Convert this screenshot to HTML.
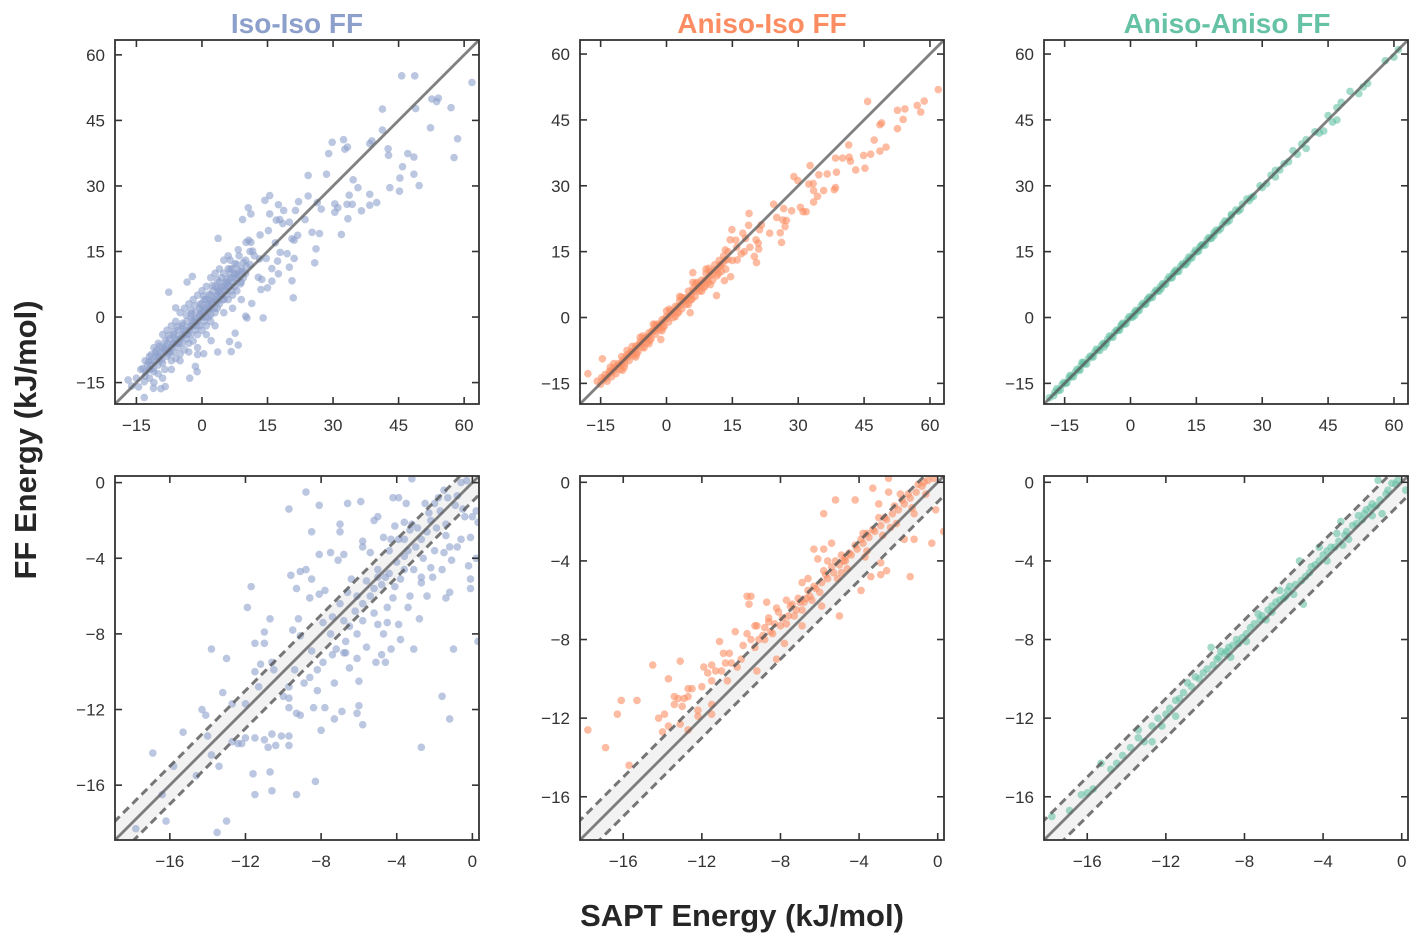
<!DOCTYPE html>
<html><head><meta charset="utf-8">
<style>
body{margin:0;background:#fff;}
svg{display:block;font-family:"Liberation Sans","DejaVu Sans",sans-serif;}
.tick{font-size:17px;fill:#333;}
</style></head>
<body>
<svg id="fig" width="1419" height="942" viewBox="0 0 1419 942" xmlns="http://www.w3.org/2000/svg">
<text x="297" y="33" text-anchor="middle" font-size="28" font-weight="bold" fill="#8da0cb">Iso-Iso FF</text>
<text x="762" y="33" text-anchor="middle" font-size="28" font-weight="bold" fill="#fc8d62">Aniso-Iso FF</text>
<text x="1227" y="33" text-anchor="middle" font-size="28" font-weight="bold" fill="#66c2a5">Aniso-Aniso FF</text>
<text x="742" y="926" text-anchor="middle" font-size="31" font-weight="bold" fill="#262626">SAPT Energy (kJ/mol)</text>
<text transform="translate(36,440) rotate(-90)" text-anchor="middle" font-size="31" font-weight="bold" fill="#262626">FF Energy (kJ/mol)</text>
</svg>
<script>
const topTicks = [-15, 0, 15, 30, 45, 60];
const botTicks = [-16, -12, -8, -4, 0];

const isoTop = [[45.7,55.2],[48.7,55.2],[61.8,53.7],[52.6,49.9],[54.1,50.1],[53.7,49.3],[57,47.9],[48.9,47.7],[41.3,47.6],[52.3,43.3],[41.3,42.8],[58.5,40.8],[57.7,36.5],[32.4,40.6],[29.8,40],[32.7,38.4],[33.3,38.9],[38.9,40.3],[38.4,39.7],[42.6,38.5],[42.7,37],[29,37.4],[47.1,37.4],[48.5,36.6],[45.9,34.4],[48.5,32.7],[45.3,31.8],[49.7,30.1],[45.2,28.8],[43,29.6],[24.3,32.4],[28.5,32.7],[34.6,31.4],[35.7,29.6],[33.7,27.9],[38.4,28.1],[40,26.2],[38.4,25.6],[36.5,24.3],[33.4,22.5],[30.4,25.9],[31.1,25],[30.4,24],[33.2,25.8],[34.4,25.8],[26.4,26.2],[27.3,24.7],[24.3,27.7],[22.1,26.4],[21.4,24.4],[23.6,22.3],[25.2,19.4],[26.9,19.1],[31.9,18.9],[26.1,15.6],[25.8,12.4],[21.9,18.7],[21.1,17.6],[20.6,17.9],[19.5,14.5],[21.1,13.4],[20,11.4],[20.6,8.3],[20.9,4.4],[17.5,9.9],[16,8.2],[15,6.7],[13.5,6.3],[14,-0.2],[11.4,3.1],[10.3,-0.2],[10,0.2],[7.6,-3.7],[8.3,-6.4],[6.7,-7.9],[6.3,-5.6],[3.6,-8],[2.1,-5.4],[0.4,-8.4],[-1,-8.6],[-2.8,-14],[-1.1,-12.5],[-1.5,-11.3],[-8.4,-15.9],[-9.4,-16.4],[-11.1,-16.3],[-13.2,-18.4],[-16.1,-15.8],[-16.9,-14.4],[-7.6,5.7],[-6,2.1],[-3.4,8],[-2.2,9.3],[3.7,18],[9.3,22.3],[10.6,25],[11.2,23.6],[14.4,26.7],[15.5,27.8],[15.5,23.6],[17.5,25.7],[18.7,24.4],[17,22.2],[17.8,22.3],[18.5,21.4],[20,21.7],[15.2,19.8],[13.3,18.8],[10.7,17.6],[11.2,17.1],[10.1,17.1],[8.3,15.4],[11.6,15.1],[13.2,13.3],[14.7,13.4],[16,11.1],[17.3,12.8],[17.9,14.8],[16.8,17],[12.9,9.1],[13.7,8.6],
[-14,-12],[-13,-13.5],[-12.5,-11],[-12,-14],[-11.5,-10],[-11,-12.5],[-10.5,-9],[-10,-11],[-10,-13],[-9.5,-8],[-9,-10.5],[-9,-7],[-8.5,-12],[-8,-9],[-8,-6],[-7.5,-8.5],[-7.5,-5],[-7,-10],[-7,-7],[-6.5,-4],[-6.5,-8],[-6,-6],[-6,-9.5],[-5.5,-3],[-5.5,-7],[-5,-5],[-5,-8.5],[-4.5,-2],[-4.5,-6],[-4,-4],[-4,-7.5],[-3.5,-1],[-3.5,-5],[-3,-3],[-3,-6],[-2.5,0],[-2.5,-4],[-2,-2],[-2,-5.5],[-1.5,1],[-1.5,-3],[-1,-1],[-1,-4],[-0.5,2],[-0.5,-2],[0,0],[0,3],[0,-3],[0.5,1.5],[0.5,-1],[1,4],[1,2],[1,-2],[1.5,3],[1.5,0],[2,5],[2,2],[2,-1],[2.5,6],[2.5,3.5],[3,4],[3,1],[3,7],[3.5,5],[3.5,2],[4,8],[4,6],[4,3],[4.5,9],[4.5,5],[5,7],[5,4],[5,10],[5.5,8],[5.5,6],[6,11],[6,7],[6,4],[6.5,9],[6.5,13],[7,8],[7,11],[7,5],[7.5,10],[8,12],[8,9],[8,6],[8.5,14],[9,11],[9,8],[10,13],[10,10],[11,12],[11,15],[12,14],[-8,-3],[-10,-6],[-6,-1],[-4,2],[-2,4],[0,6],[2,9],[4,11],[6,14],[-12,-9],[-9,-4],[-7,-2],[-5,1],[-3,3],[-1,5],[1,7],[3,10],[5,13],[-13,-10],[-11,-7],[-3,-8],[-1,-7],[1,-4],[3,-2],[5,1],[7,2],[9,4],[-5,-10],[-7,-12],[-9,-14],[-11,-15],[2,0.5],[0.5,4],[-1.5,-0.5],[-2.5,1.5],[3.5,8.5],[6.5,11],[8.5,10.5],[9.5,12.5],[-15,-14],[-14.5,-16],[-12,-12],[-10,-9],[-8.5,-7.5],[-6.5,-6],[-4.5,-4.5],[-2.5,-2],[-0.5,0.5],[1.5,1.5],[3.5,3.5],[5.5,5],[7.5,7],[9.5,9],
[-13.5,-11.8],[-12.8,-12.5],[-11.8,-11],[-10.8,-10.2],[-9.8,-9.5],[-8.8,-8.2],[-7.8,-7.6],[-6.8,-6.3],[-5.8,-5.2],[-4.8,-4.1],[-3.8,-3.2],[-2.8,-2.3],[-1.8,-1.2],[-0.8,-0.1],[0.2,1],[1.2,2.4],[2.2,3.2],[3.2,4.6],[4.2,5.4],[5.2,6.6],[6.2,7.4],[7.2,8.8],[8.2,9.6],[9.2,10.4],[10.2,11.6],[-13.2,-14.8],[-11.2,-11.8],[-9.2,-9.8],[-7.2,-8],[-5.2,-6],[-3.2,-4],[-1.2,-2],[0.8,0],[2.8,2],[4.8,4],[6.8,6],[8.8,7.6],[-10.4,-7.6],[-8.4,-5.4],[-6.4,-3.4],[-4.4,-1.4],[-2.4,0.8],[-0.4,3],[1.6,5.2],[3.6,6.6],[5.6,8.6],[7.6,12.2],[-11.6,-8.6],[-9.6,-6.6],[-7.6,-4.2],[-5.6,-2.2],[-3.6,0.4],[-1.6,2.6],[0.4,4.8],[2.4,7.2],[4.4,7],[6.4,9.8],[-12.2,-10.2],[-10.6,-8.2],[-8.2,-6.8],[-6.2,-4.8],[-4.2,-2.8],[-2.2,-0.8],[-0.2,1.4],[1.8,3.8],[3.8,5.8],[5.8,7.8],[7.8,9.8]];

const anisoIsoTop = [[61.9,51.9],[45.8,49.2],[52.6,47.2],[54.3,47.5],[57.1,48.3],[58.7,49.3],[57.9,46.8],[48.6,43.9],[49,44.3],[53.9,45.1],[52.6,43],[47.3,40.4],[41.5,39.3],[50,38.8],[48.6,37.9],[46.5,37.2],[44.9,36.9],[40.1,36.3],[38.5,36.3],[41.6,36.5],[41.9,35.6],[43.1,33.6],[45.2,34],[32.7,34.6],[29,32.1],[29.9,31.2],[34.7,32.5],[36.6,32.7],[38.7,33.1],[38.2,29.1],[38.5,29.6],[35.8,28.9],[33.4,30.5],[32.4,30.4],[33.5,28.9],[34.4,27.6],[33.5,26.3],[24.4,25.8],[18.8,23.7],[26.7,24.8],[28.5,24.3],[30.5,25.1],[31.1,24.1],[31.8,24.1],[25.1,22.8],[26.5,22.2],[27.3,22.1],[27,20.7],[23.5,19.2],[25.9,19.3],[26.2,17.1],[21.6,21.1],[21.2,20],[20.4,17.7],[20.9,16.9],[21,15.6],[20,13.9],[20.5,12.5],[18.7,21],[14.9,20],[14.5,17.7],[17.4,19.2],[17.7,15],[16.1,13.1],[14.6,9.3],[13.2,8.4],[11.4,5],[5.4,1.1],[6,10.2],[-1.3,-5],[-5.1,-6.9],[-17.9,-12.8],[-15.8,-14.5],[-14.6,-9.4],
[-15,-15.2],[-14,-13],[-13.5,-14.5],[-13,-12.2],[-12.5,-13.5],[-12,-11.5],[-11.5,-12.8],[-11,-10.5],[-10.5,-11.8],[-10,-9.8],[-9.5,-10.5],[-9,-8.5],[-8.5,-9.8],[-8,-7.8],[-7.5,-8.7],[-7,-6.5],[-6.5,-7.8],[-6,-5.5],[-5.5,-6.8],[-5,-4.8],[-4.5,-5.8],[-4,-3.5],[-3.5,-4.8],[-3,-2.8],[-2.5,-3.8],[-2,-1.5],[-1.5,-2.8],[-1,-0.5],[-0.5,-2],[0,0.3],[0.5,-1],[1,1.5],[1.5,0],[2,2.5],[2.5,1],[3,3.8],[3.5,2],[4,4.5],[4.5,3],[5,6],[5.5,4],[6,6.5],[6.5,4.8],[7,8],[7.5,6],[8,8.5],[8.5,6.8],[9,10],[9.5,8],[10,10.5],[10.5,8.5],[11,12],[11.5,9.5],[12,13],[12.5,10.5],[13,14],[13.5,11],[14,15],[15,13],[16,16],[17,14.5],[18,18],[19,16],[-12,-10.5],[-9,-7.5],[-6,-4.5],[-3,-1.5],[0,1.5],[3,4.8],[6,8],[9,11],[-10,-12],[-7,-9],[-4,-6],[-1,-3],[2,0.2],[5,3],[8,6],[10,7.5],[-14.8,-13.7],[-8.2,-8.4],[-2.2,-2.5],[4.2,3.8],[7.2,7],[12.2,11.8],
[-14.4,-14.2],[-13.8,-13.8],[-13.2,-13],[-12.6,-12.4],[-11.9,-12],[-11.3,-11.2],[-10.7,-10.8],[-10.1,-10.3],[-9.4,-9.2],[-8.8,-9],[-8.2,-8],[-7.6,-7.8],[-7,-7.2],[-6.4,-6.3],[-5.8,-6],[-5.2,-5.4],[-4.6,-4.5],[-4,-4.3],[-3.4,-3.2],[-2.8,-3.1],[-2.2,-2.1],[-1.6,-1.9],[-1,-1.2],[-0.4,-0.5],[0.2,-0.2],[0.8,0.6],[1.4,1.1],[2,1.6],[2.6,2.5],[3.2,2.8],[3.8,3.6],[4.4,4],[5,4.7],[5.6,5.2],[6.2,6],[6.8,6.3],[7.4,7.2],[8,7.5],[8.6,8.4],[9.2,8.6],[9.8,9.5],[10.4,9.8],[11,10.8],[11.6,11],[12.2,12],[12.8,12.3],[13.4,13.1],[14,13.2],[-12.8,-11.3],[-10.2,-8.9],[-7.8,-6.6],[-5.4,-4.2],[-2.6,-1.6],[0.6,1.9],[3.4,4.6],[6.6,7.8],[9.6,11.2],[13.4,15.4],[15.8,17.6],[-9.6,-11.3],[-6.8,-8.3],[-3.8,-5.2],[-0.8,-2.2],[2.8,1.2],[5.8,4.2],[8.8,7.2],[11.8,10]];

const anisoAnisoTop = [[-18.5,-18.3],[-17.5,-17.8],[-16.8,-16.2],[-16,-16.5],[-15.2,-14.8],[-14.5,-14.9],[-13.8,-13.2],[-13,-13.5],[-12.2,-11.8],[-11.5,-12],[-10.8,-10.3],[-10,-10.6],[-9.2,-8.8],[-8.5,-9],[-7.8,-7.2],[-7,-7.5],[-6.2,-5.9],[-5.5,-6],[-4.8,-4.2],[-4,-4.5],[-3.2,-2.9],[-2.5,-2.9],[-1.8,-1.3],[-1,-1.4],[-0.3,0.2],[0.5,0.1],[1.2,1.6],[2,1.6],[2.8,3.2],[3.5,3.1],[4.3,4.7],[5,4.6],[5.8,6.2],[6.5,6],[7.3,7.7],[8,7.6],[8.8,9.3],[9.5,9.1],[10.3,10.8],[11,10.5],[11.8,12.2],[12.5,12],[13.3,13.8],[14,13.6],[14.8,15.3],[15.5,15.1],[16.3,16.6],[17,16.5],[17.8,18.2],[18.5,18.1],[19.5,19.9],[20.5,20.2],[21.5,22],[22.5,22.1],[24,24.5],[25,24.6],[26.5,27],[28,27.6],[29.5,30],[31,30.5],[33,33.5],[35,35],[37,38],[38,37.2],[40,40.5],[42,42.3],[43,42],[45,46],[46,44.5],[47,47.8],[48,49],[50,51.5],[52,51],[53,52.5],[54,53.3],[58,58.5],[60,59.3],[61,61],[44,42.5],[47,45],[40,38.5],[36,35.5],[33,32],[-11,-10.2],[-6,-6.7],[-2,-1.6],[1,0.5],[4,4.2],[7,6.6],[10,10.3],[13,12.6],[16,16.3],[19,18.7],[23,23.5],[27,26.6],
[-17.2,-17],[-16.4,-16.6],[-15.6,-15.3],[-14.8,-15],[-14,-13.8],[-13.4,-13.4],[-12.6,-12.5],[-11.8,-11.9],[-11.2,-10.9],[-10.4,-10.5],[-9.6,-9.4],[-8.8,-8.9],[-8.2,-8],[-7.4,-7.4],[-6.6,-6.4],[-5.8,-5.9],[-5.2,-5],[-4.4,-4.4],[-3.6,-3.4],[-2.8,-2.9],[-2.2,-2],[-1.4,-1.5],[-0.6,-0.4],[0.2,0.1],[0.8,1],[1.6,1.5],[2.4,2.6],[3.2,3],[3.8,4],[4.6,4.5],[5.4,5.6],[6.2,6.1],[6.8,7],[7.6,7.5],[8.4,8.6],[9.2,9],[9.8,10],[10.6,10.5],[11.4,11.6],[12.2,12.1],[12.8,13],[13.6,13.5],[14.4,14.6],[15.2,15],[15.8,16],[16.6,16.5],[17.4,17.6],[18.2,18],[19,19.3],[20,19.8],[21,21.2],[22,21.7],[23,23.2],[24.5,24.2],[25.5,25.8],[27.5,27.3],[30,29.6],[32,32.4],[34,33.6],[39,39.5]];

const isoBot = [[-16.9,-14.3],[-17.8,-18.3],[-16.2,-17.9],[-16.4,-16.5],[-15.8,-15],[-15.3,-13.2],[-14.6,-15.5],[-14.3,-12],[-14.1,-12.3],[-14,-13.4],[-13.8,-8.8],[-13.8,-14.4],[-13.4,-15],[-13.5,-18.5],[-13,-17.9],[-13,-9.3],[-13.2,-11.1],[-12.7,-11.7],[-12.7,-13.7],[-12.4,-13.8],[-12.2,-13.8],[-12,-13.5],[-12,-11.7],[-11.9,-6.6],[-11.7,-5.5],[-11.5,-10],[-11.5,-8.5],[-11.3,-10.8],[-11.5,-13.5],[-11.6,-15.4],[-11.5,-16.5],[-11.2,-9.6],[-11,-13.6],[-11,-8.5],[-11,-7.9],[-10.8,-14],[-10.7,-7.2],[-10.7,-15.3],[-10.6,-16.3],[-10.6,-13.3],[-10.6,-9.5],[-10.5,-9.9],[-10.4,-13.9],[-10.1,-13.4],[-10,-11.3],[-9.7,-11.9],[-9.7,-13.9],[-9.7,-1.4],[-9.7,-13.4],[-9.7,-11.4],[-9.6,-4.9],[-9.5,-7.8],[-9.4,-9.9],[-9.3,-12.2],[-9.3,-16.5],[-9.3,-5.6],[-9.2,-7.2],[-9.1,-8.1],[-9.1,-12.3],[-9.1,-4.7],[-8.8,-0.5],[-8.8,-4.6],[-8.6,-6.1],[-8.5,-2.6],[-8.5,-8.9],[-8.5,-5.1],[-8.4,-11.9],[-8.3,-15.8],[-8.2,-11],[-8.1,-1.2],[-8.1,-5.9],[-8.1,-3.8],[-8,-13.1],[-7.9,-9.5],[-7.8,-11.9],[-7.8,-5.7],[-7.5,-3.7],[-7.4,-9.1],[-7.3,-10.6],[-7.3,-12.5],[-7.1,-4.1],[-7,-2.6],[-7,-2.2],[-6.9,-12.1],[-6.8,-3.8],[-6.7,-8.4],[-6.7,-9],[-6.6,-1.1],[-6.5,-9.8],[-6.4,-5.1],[-6.1,-12.2],[-6.1,-9.3],[-6,-11.8],[-6,-10.5],[-5.9,-1],[-5.8,-3.4],[-5.8,-12.8],[-5.8,-3.1],[-5.6,-8.7],[-5.4,-3.7],[-5.2,-2],[-5.1,-9.5],[-5,-1.8],[-5,-4.6],[-4.8,-9.1],[-4.6,-9.5],[-4.5,-6.6],[-4.3,-8.8],[-4.2,-0.8],[-3.9,-0.8],[-4.1,-2.3],[-3.9,-7.5],[-3.8,-8.3],[-3.6,-2.1],[-3.5,-1.1],[-3.4,-6.6],[-3.3,-6],[-3.2,0.2],[-3.1,-8.8],[-3.1,-4.6],[-2.8,-7.2],[-2.7,-14],[-2.7,-5.3],[-2.5,-1.1],[-2.4,-6],[-2.2,-4.5],[-2,-1.1],[-1.6,-4.6],[-1.6,-11.3],[-1.5,-0.4],[-1.4,-6.1],[-1.2,-12.5],[-1.2,-5.8],[-1,-8.8],[-0.6,-3],[-0.4,-1.8],[-0.2,-4.4],[-0.1,-5.1],[-0.1,-5.6],[0,-1.8],[0.2,-1.5],[0.2,-4],[0.3,-8.4],[0.3,-2.1],[-0.1,-2.9],[-0.8,-3.4],[-1.2,-3.4],[-1.5,-3.7],[-1.1,-4.1],[-2.1,-5],[-2.7,-5],[-3.6,-4.6],[-3.8,-5.1],[-4.1,-5.5],[-4.2,-6.1],[-4.5,-7.4],[-4.7,-8],[-5,-7.5],[-5.2,-6.9],[-5.8,-7.3],[-6.1,-8],[-6.5,-7.6],[-6.8,-9],[-7.2,-8.8],[-5.8,-6.4],[-5.4,-6],[-4.7,-2.9],[-4.3,-3],[-3.3,-2.5],[-2.7,-3],[-2.2,-2],[-1.7,-1.5],[-1.3,-0.8],[-0.6,0],[-0.3,0.1],[-3.6,-3.9],[-5,-5],[-6.1,-6],[-6.8,-7.3],[-7.5,-8],[-8.2,-9.9],[-8.9,-10.6],[-9.7,-10.8],[-8.6,-10.3],[-7.9,-7.4],
[-4.4,-3.6],[-4,-4.2],[-3.4,-3.6],[-3,-3.4],[-2.4,-2.6],[-1.9,-2.4],[-1.4,-2.2],[-0.9,-1.2],[-0.5,-1.4],[-4.8,-5.4],[-4.4,-4.8],[-3.9,-3],[-3.2,-2.2],[-2.6,-4],[-2,-3.6],[-1.4,-2.8],[-5.6,-5.2],[-6.2,-6.8],[-6.6,-5.8],[-7,-6.4],[-7.4,-7.1],[-5.2,-5.6],[-4.6,-5],[-3.6,-3],[-2.9,-2.4],[-2.3,-1.6],[-1.8,-0.8],[-0.8,-0.7]];

const anisoIsoBot = [[-17.8,-12.6],[-16.9,-13.5],[-16.3,-11.8],[-16.1,-11.1],[-15.3,-11.1],[-15.7,-14.4],[-14.5,-9.3],[-13.7,-10],[-14.2,-12],[-13.9,-11.8],[-13.7,-12.4],[-14,-12.7],[-13.4,-10.9],[-13.4,-11.3],[-13.1,-9.1],[-13.2,-11],[-13,-11.4],[-12.9,-11],[-12.7,-10.5],[-12.5,-10.5],[-12.7,-10.9],[-12.7,-12.6],[-13.1,-12.3],[-12.2,-11.6],[-12.2,-11.9],[-12,-10.4],[-11.9,-9.4],[-11.7,-9.7],[-11.5,-9.3],[-11.5,-10.1],[-11.5,-11.8],[-11.5,-11.3],[-11.3,-9.6],[-11.1,-8.1],[-11,-9.6],[-10.9,-8.7],[-10.8,-9.2],[-10.6,-8.7],[-10.7,-10.1],[-10.5,-9.2],[-10.3,-7.6],[-10.2,-9.4],[-10,-9],[-9.9,-8.3],[-9.7,-5.8],[-9.5,-5.8],[-9.6,-6.2],[-9.7,-7.7],[-9.5,-8],[-9.3,-7.3],[-9.2,-9.6],[-9.2,-7.3],[-9.1,-8],[-8.8,-7.4],[-8.7,-6.1],[-8.6,-6.9],[-8.4,-7.7],[-8.3,-7.2],[-8.2,-6.4],[-8.2,-9],[-7.8,-8.2],[-7.7,-6],[-7.5,-6.3],[-7.3,-6.8],[-7.1,-5.9],[-6.9,-5.1],[-6.9,-7.3],[-6.9,-6.5],[-6.6,-5.5],[-6.3,-3.4],[-6.1,-3.9],[-5.8,-3.4],[-5.9,-6.3],[-5.8,-1.6],[-5.8,-4.5],[-5.6,-4],[-5.4,-3.1],[-5.2,-4],[-5.2,-0.9],[-5,-6.8],[-4.9,-4.6],[-4.7,-3.8],[-4.2,-0.9],[-3.9,-5.5],[-3.8,-2.6],[-3.4,-4.8],[-3.3,-0.3],[-3,-1.1],[-2.9,-4.1],[-2.9,-4.7],[-2.6,-4.5],[-2.5,-0.5],[-2.5,0.2],[-1.7,-2.9],[-1.4,-4.8],[-1.2,-2.9],[-0.3,-3.1],[-0.1,-1.4],[0.3,-2.5],
[-8.8,-8],[-8.5,-7.6],[-8,-7.3],[-7.6,-6.8],[-7.2,-6.5],[-6.8,-6.1],[-6.5,-5.8],[-6.2,-5.4],[-5.9,-5.1],[-5.6,-4.9],[-5.3,-4.6],[-5,-4.2],[-4.7,-4],[-4.4,-3.7],[-4.1,-3.4],[-3.8,-3.1],[-3.5,-2.8],[-3.2,-2.5],[-2.9,-2.2],[-2.6,-1.9],[-2.3,-1.6],[-2,-1.4],[-1.7,-1.1],[-1.4,-0.8],[-1.1,-0.5],[-0.8,-0.2],[-0.5,0.1],[-0.2,0.2],[-7.4,-6.2],[-6,-5.6],[-4.6,-4.4],[-3.6,-3.5],[-2.4,-2.3],[-1.3,-1.3],[-0.6,-0.6],[-4.9,-3.7],[-3,-1.8],[-1.9,-0.6],[-6.6,-4.9],[-8.1,-6.6],
[-7,-6.1],[-6.7,-5.9],[-6.3,-5.3],[-5.7,-4.7],[-5.4,-4.3],[-4.8,-4],[-4.5,-3.6],[-4.2,-3.2],[-3.9,-2.9],[-3.6,-2.6],[-3.3,-2.4],[-2.7,-1.8],[-2.2,-1.2],[-1.8,-0.9],[-1.5,-0.6],[-1,-0.1],[-0.7,0],[-9.3,-8.4],[-8.9,-7.8],[-8.6,-7.1],[-7.9,-6.9],[-7.7,-7.2],[-6.4,-6],[-5.1,-4.9],[-3.7,-3.8],[-2.8,-2.7],[-2.1,-2.1],[-1.2,-1.6]];

const anisoAnisoBot = [[-17.8,-17],[-16.9,-16.7],[-16.3,-15.9],[-15.7,-15.6],[-15.3,-14.3],[-14.5,-14.3],[-14.2,-13.9],[-13.4,-12.6],[-13.4,-13],[-13.1,-13.2],[-12.7,-13.2],[-12.7,-12.4],[-12.2,-12.4],[-12,-11.8],[-11.5,-11.1],[-11.5,-11.9],[-11.1,-10.7],[-10.9,-10.2],[-10.5,-9.9],[-10.1,-9.7],[-9.7,-8.4],[-9.6,-9.3],[-9.3,-8.9],[-8.9,-8.6],[-8.7,-8.9],[-8.3,-8.2],[-7.9,-7.7],[-7.3,-6.7],[-6.9,-7],[-6.6,-6.3],[-6.2,-5.5],[-5.9,-5.8],[-5.2,-4],[-5,-6.2],[-4.9,-4.8],[-4.2,-3.3],[-3.8,-4],[-3.3,-2.6],[-3.1,-2],[-2.7,-2.9],[-2.2,-1.7],[-1.5,-1.1],[-1.2,0.1],[-1,-1.6],[-0.5,-0.05],[0.2,-0.4],
[-9.4,-9],[-9,-8.7],[-8.6,-8.3],[-8.1,-7.9],[-7.7,-7.4],[-7.5,-7.2],[-7.1,-6.8],[-6.8,-6.5],[-6.4,-6.1],[-6,-5.9],[-5.7,-5.3],[-5.4,-5.2],[-4.6,-4.3],[-4.4,-4.2],[-4,-3.7],[-3.6,-3.3],[-3.4,-3.3],[-2.9,-2.7],[-2.5,-2.2],[-2,-1.9],[-1.8,-1.4],[-1.3,-1.2],[-0.8,-0.6],[-0.3,-0.1],[-10.3,-10],[-11.8,-11.5],[-13.8,-13.5],[-14.8,-14.6],[-16,-15.8],[-7.9,-8.1],[-5.5,-5.7],[-3,-3.2],[-1.5,-1.7],
[-9.2,-8.6],[-8.8,-8.4],[-8.4,-8],[-7.2,-7],[-6.6,-6.6],[-6.2,-6],[-5.8,-5.5],[-5.1,-5],[-4.7,-4.6],[-4.2,-4],[-3.8,-3.5],[-3.2,-3],[-2.8,-2.5],[-2.3,-2.1],[-1.9,-1.6],[-1.6,-1.3],[-1.1,-0.9],[-0.7,-0.4],[-0.2,0.1],[-12.4,-12],[-11.3,-11],[-10.7,-10.4],[-9.9,-9.5]];

const svg = document.getElementById('fig');
const NS = 'http://www.w3.org/2000/svg';
function mk(tag, attrs, parent){
  const e = document.createElementNS(NS, tag);
  for (const k in attrs) e.setAttribute(k, attrs[k]);
  (parent || svg).appendChild(e);
  return e;
}
function fmt(v){ return v < 0 ? '\u2212' + Math.abs(v) : String(v); }

const panels = [
  {name:'iso-top', x0:115, x1:479, y0:40, y1:404, dom:[-19.9,63.4], ticks:topTicks, data:isoTop, color:'#8da0cb', band:false},
  {name:'aniso-iso-top', x0:580, x1:944, y0:40, y1:404, dom:[-19.7,63.2], ticks:topTicks, data:anisoIsoTop, color:'#fc8d62', band:false},
  {name:'aniso-aniso-top', x0:1044, x1:1408, y0:40, y1:404, dom:[-19.7,63.2], ticks:topTicks, data:anisoAnisoTop, color:'#66c2a5', band:false},
  {name:'iso-bottom', x0:115, x1:479, y0:476, y1:840, dom:[-18.9,0.35], ticks:botTicks, data:isoBot, color:'#8da0cb', band:true},
  {name:'aniso-iso-bottom', x0:580, x1:944, y0:476, y1:840, dom:[-18.2,0.32], ticks:botTicks, data:anisoIsoBot, color:'#fc8d62', band:true},
  {name:'aniso-aniso-bottom', x0:1044, x1:1408, y0:476, y1:840, dom:[-18.2,0.32], ticks:botTicks, data:anisoAnisoBot, color:'#66c2a5', band:true}
];

panels.forEach((p, i) => {
  const sx = v => p.x0 + (v - p.dom[0]) / (p.dom[1] - p.dom[0]) * (p.x1 - p.x0);
  const sy = v => p.y1 - (v - p.dom[0]) / (p.dom[1] - p.dom[0]) * (p.y1 - p.y0);
  const g = mk('g', {});
  
  
  const cp = mk('clipPath', {id: 'clip' + i}, g);
  mk('rect', {x: p.x0, y: p.y0, width: p.x1 - p.x0, height: p.y1 - p.y0}, cp);
  const inner = mk('g', {'clip-path': 'url(#clip' + i + ')'}, g);
  const lo = p.dom[0] - 2, hi = p.dom[1] + 2;
  if (p.band) {
    const band = mk('polygon', {points: [sx(lo)+','+sy(lo+1), sx(hi)+','+sy(hi+1), sx(hi)+','+sy(hi-1), sx(lo)+','+sy(lo-1)].join(' '), fill: '#f2f2f2'}, inner);
    
    
  }
  p.data.forEach(d => {
    const c = mk('circle', {cx: sx(d[0]), cy: sy(d[1]), r: 3.8, fill: p.color, 'fill-opacity': 0.6}, inner);
    
    
  });
  const diag = mk('line', {x1: sx(lo), y1: sy(lo), x2: sx(hi), y2: sy(hi), stroke: '#555', 'stroke-opacity': 0.75, 'stroke-width': 2.8}, inner);
  
  
  if (p.band) {
    [1, -1].forEach(o => {
      const dl = mk('line', {x1: sx(lo), y1: sy(lo+o), x2: sx(hi), y2: sy(hi+o), stroke: '#555', 'stroke-opacity': 0.8, 'stroke-width': 3, 'stroke-dasharray': '8,5'}, inner);
      
      
    });
  }
  p.ticks.forEach(t => {
    const X = sx(t), Y = sy(t);
    mk('line', {x1: X, y1: p.y1, x2: X, y2: p.y1 - 7, stroke: '#333', 'stroke-width': 1.6}, g);
    mk('line', {x1: X, y1: p.y0, x2: X, y2: p.y0 + 7, stroke: '#333', 'stroke-width': 1.6}, g);
    mk('line', {x1: p.x0, y1: Y, x2: p.x0 + 7, y2: Y, stroke: '#333', 'stroke-width': 1.6}, g);
    mk('line', {x1: p.x1, y1: Y, x2: p.x1 - 7, y2: Y, stroke: '#333', 'stroke-width': 1.6}, g);
    const xl = mk('text', {x: X, y: p.y1 + 27, 'text-anchor': 'middle', class: 'tick'}, g);
    xl.textContent = fmt(t);
    
    
    const yl = mk('text', {x: p.x0 - 10, y: Y + 6, 'text-anchor': 'end', class: 'tick'}, g);
    yl.textContent = fmt(t);
    
    
  });
  const fr = mk('rect', {x: p.x0, y: p.y0, width: p.x1 - p.x0, height: p.y1 - p.y0, fill: 'none', stroke: '#333', 'stroke-width': 1.8}, g);
  
  
});
</script>
</body></html>
